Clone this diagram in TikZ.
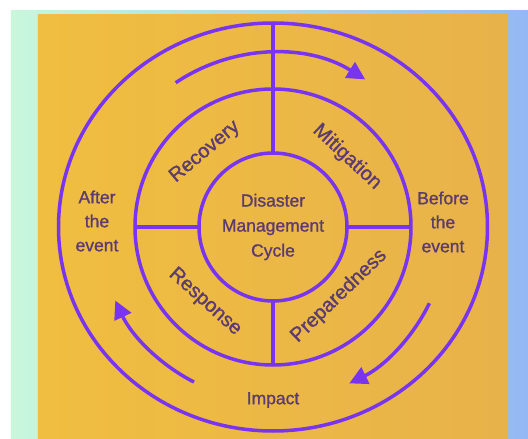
\documentclass[tikz,border=0pt]{standalone}
\usepackage{fontspec}
\setmainfont{Liberation Sans}[FakeBold=1.2]
\usetikzlibrary{shapes.geometric,arrows.meta}

\definecolor{violetTrait}{RGB}{120,52,238}
\definecolor{violetTexte}{RGB}{92,60,112}
\definecolor{menthe}{RGB}{200,247,220}
\definecolor{bleuCiel}{RGB}{148,184,244}
\definecolor{orangeClair}{RGB}{240,190,64}
\definecolor{orangeFonce}{RGB}{232,178,74}

\begin{document}
\begin{tikzpicture}[x=1pt,y=1pt]
		\tikzstyle{trait}=[draw=violetTrait, line width=3.5pt]
		\tikzstyle{rond}=[trait, inner sep=0, outer sep=0]
		\tikzstyle{fleche}=[trait, -{Triangle[length=18pt,width=18pt]}]
		\tikzstyle{etiquette}=[text=violetTexte, font=\fontsize{17.5}{24}\selectfont, align=center]
		\tikzstyle{phase}=[etiquette, font=\fontsize{20}{24}\selectfont]

		\useasboundingbox (-273,-212) rectangle (255,227);
		% background
		\fill [white] (-273,-212) rectangle (255,227);
		\shade [left color=menthe, right color=bleuCiel] (-262,-212) rectangle (255,216);
		\shade [left color=orangeClair, right color=orangeFonce] (-235,-212) rectangle (235,212);

		% circles
		\node [rond, ellipse, minimum width=429, minimum height=408] (exterieur) at (0,0) {};
		\node [rond, circle, minimum size=276] (anneau) at (0,0) {};
		\node [rond, circle, minimum size=148, etiquette, font=\fontsize{17.5}{25}\selectfont] (centre) at (0,0) {Disaster\\Management\\Cycle};

		% separators
		\draw [trait] (exterieur.north) -- (centre.north);
		\draw [trait] (centre.south) -- (anneau.south);
		\draw [trait] (anneau.west) -- (centre.west);
		\draw [trait] (centre.east) -- (anneau.east);

		% arrows
		\draw [fleche] (124:174) arc [start angle=124, end angle=58, radius=174];
		\draw [fleche] (-26:174) arc [start angle=-26, end angle=-64, radius=174];
		\draw [fleche] (-117:174) arc [start angle=-117, end angle=-155, radius=174];

		% phases
		\node [phase, rotate=40] (recovery) at (-68,75) {Recovery};
		\node [phase, rotate=-43] (mitigation) at (74,70) {Mitigation};
		\node [phase, rotate=-42] (response) at (-68,-75) {Response};
		\node [phase, rotate=44] (preparedness) at (66,-69) {Preparedness};

		% outer labels
		\node [etiquette] (apres) at (-176,6) {After\\the\\event};
		\node [etiquette] (avant) at (170,5) {Before\\the\\event};
		\node [etiquette] (impact) at (0,-173) {Impact};
\end{tikzpicture}
\end{document}
